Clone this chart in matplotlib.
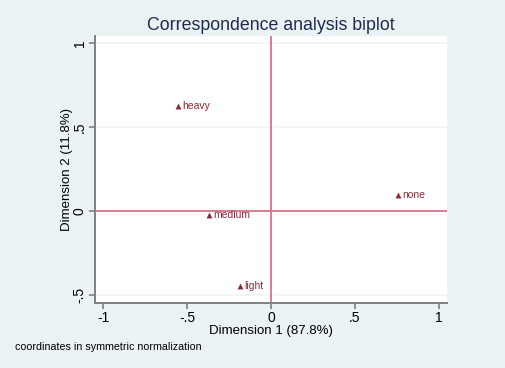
import matplotlib
matplotlib.use("Agg")
import matplotlib.pyplot as plt

# category coordinates
labels = ["heavy", "none", "medium", "light"]
dim1 = [-0.554, 0.754, -0.371, -0.185]
dim2 = [0.625, 0.095, -0.024, -0.445]

xticks = [-1, -0.5, 0, 0.5, 1]
xtick_labels = ["-1", "-.5", "0", ".5", "1"]
yticks = [-0.5, 0, 0.5, 1]
ytick_labels = ["-.5", "0", ".5", "1"]

BG = "#eaf2f3"
REF = "#d8708a"
MARK = "#8c2a35"
NAVY = "#1e2b4f"

plt.rcParams["font.family"] = ["Liberation Sans", "DejaVu Sans"]

fig = plt.figure(figsize=(5.06, 3.68), dpi=100, facecolor=BG)
ax = fig.add_axes([95/506, 65/368, 352/506, 267/368])
ax.set_facecolor("white")

ax.set_xlim(-1.048, 1.048)
ax.set_ylim(-0.548, 1.04)

for y in yticks:
    ax.axhline(y, color="#eef3f4", lw=1.2, zorder=0)
ax.axhline(0, color=REF, lw=1.3, zorder=1)
ax.axvline(0, color=REF, lw=1.3, zorder=1)

ax.scatter(dim1, dim2, marker="^", s=18, color=MARK, zorder=3, linewidths=0)
for lab, x, y in zip(labels, dim1, dim2):
    ax.annotate(lab, (x, y), xytext=(3, 0), textcoords="offset points",
                va="center", ha="left", fontsize=7.5, color=MARK)

ax.set_xticks(xticks)
ax.set_xticklabels(xtick_labels)
ax.set_yticks(yticks)
ax.set_yticklabels(ytick_labels, rotation=90, va="center")
ax.tick_params(colors="#7f7f7f", labelcolor="black", labelsize=10, length=4, width=1.2)
ax.tick_params(axis="x", pad=2)
ax.tick_params(axis="y", pad=2)

for s in ["top", "right"]:
    ax.spines[s].set_visible(False)
for s in ["left", "bottom"]:
    ax.spines[s].set_color("#7f7f7f")
    ax.spines[s].set_linewidth(1.4)

ax.set_xlabel("Dimension 1 (87.8%)", fontsize=9.5, labelpad=0)
ax.set_ylabel("Dimension 2 (11.8%)", fontsize=9.5, labelpad=0)
ax.set_title("Correspondence analysis biplot", fontsize=12.8, color=NAVY, pad=4)

fig.text(15/506, 1 - 347/368, "coordinates in symmetric normalization",
         fontsize=7.7, va="center", ha="left")

fig.savefig("out.png", dpi=100, facecolor=BG)
